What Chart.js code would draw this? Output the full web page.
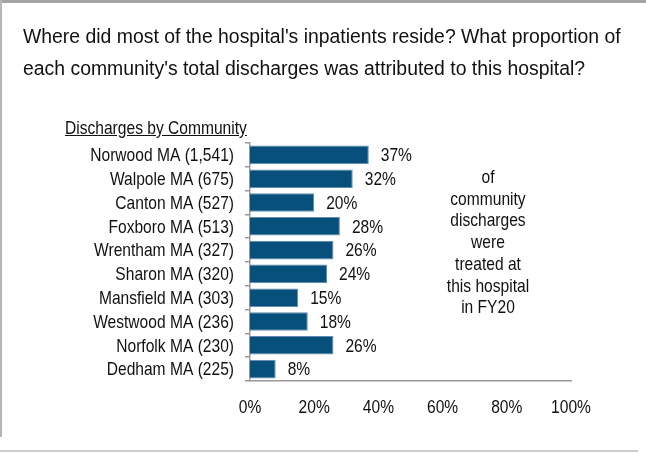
<!DOCTYPE html>
<html>
<head>
<meta charset="utf-8">
<script src="https://cdn.jsdelivr.net/npm/chart.js@4"></script>
<style>
  body { margin: 0; background: #fff; font-family: "Liberation Sans", Arial, sans-serif; }
  #wrap { position: relative; width: 646px; height: 453px; overflow: hidden; }
  #chart { position: absolute; left: 0; top: 0; }
  .topBar { position: absolute; left: 0; top: 0; width: 646px; height: 3px; background: #a3a3a3; }
  .leftBar { position: absolute; left: 0; top: 0; width: 2px; height: 437px; background: #b5b5b5; }
  .bottomBar { position: absolute; left: 0; top: 450px; width: 638px; height: 2px; background: #cccccc; }
  .title { position: absolute; left: 23px; top: 20px; font-size: 19.4px; line-height: 32px; color: #111; white-space: nowrap; }
  .sub { position: absolute; left: 65px; top: 117px; font-size: 19px; color: #111; text-decoration: underline; white-space: nowrap;
         transform: scaleX(0.82); transform-origin: left top; }
  .note { position: absolute; left: 408px; top: 166px; width: 160px; text-align: center; font-size: 19px; line-height: 21.7px; color: #111;
          transform: scaleX(0.82); transform-origin: center top; }
</style>
</head>
<body>
<div id="wrap">
  <canvas id="chart" width="646" height="453"></canvas>
  <div class="topBar"></div>
  <div class="leftBar"></div>
  <div class="bottomBar"></div>
  <div class="title">Where did most of the hospital's inpatients reside? What proportion of<br>each community's total discharges was attributed to this hospital?</div>
  <div class="sub">Discharges by Community</div>
  <div class="note">of<br>community<br>discharges<br>were<br>treated at<br>this hospital<br>in FY20</div>
</div>
<script>
// data
const communities = ['Norwood MA', 'Walpole MA', 'Canton MA', 'Foxboro MA', 'Wrentham MA', 'Sharon MA', 'Mansfield MA', 'Westwood MA', 'Norfolk MA', 'Dedham MA'];
const discharges = [1541, 675, 527, 513, 327, 320, 303, 236, 230, 225];
const shares = [37, 32, 20, 28, 26, 24, 15, 18, 26, 8];
const xTicks = [0, 20, 40, 60, 80, 100];

const labels = communities.map((c, i) => c + ' (' + discharges[i].toLocaleString('en-US') + ')');

// the reference uses a narrow face, so squeeze Liberation Sans sideways
function narrowText(ctx, text, x, y, align) {
    ctx.save();
    ctx.translate(x, y);
    ctx.scale(0.82, 1);
    ctx.textAlign = align;
    ctx.fillText(text, 0, 0);
    ctx.restore();
}

// tick labels and % values
const narrowLabels = {
    id: 'narrowLabels',
    afterDraw(chart) {
        const ctx = chart.ctx;
        const xs = chart.scales.x;
        const ys = chart.scales.y;
        const meta = chart.getDatasetMeta(0);
        ctx.save();
        ctx.font = '19px "Liberation Sans", Arial, sans-serif';
        ctx.fillStyle = '#111';
        ctx.textBaseline = 'middle';
        labels.forEach((lab, i) => {
            narrowText(ctx, lab, ys.right - 16, ys.getPixelForValue(i) + 1, 'right');
        });
        xTicks.forEach(v => {
            narrowText(ctx, v + '%', xs.getPixelForValue(v), xs.top + 27, 'center');
        });
        meta.data.forEach((bar, i) => {
            narrowText(ctx, shares[i] + '%', bar.x + 12, bar.y + 1, 'left');
        });
        ctx.restore();
    }
};

new Chart(document.getElementById('chart'), {
    type: 'bar',
    data: {
        labels: labels,
        datasets: [{
            data: shares,
            backgroundColor: '#07507b',
            borderColor: '#5f8cb0',
            borderWidth: 1,
            barPercentage: 0.78,
            categoryPercentage: 1
        }]
    },
    options: {
        indexAxis: 'y',
        responsive: false,
        animation: false,
        layout: { padding: { left: 0, right: 75, top: 143, bottom: 0 } },
        plugins: {
            legend: { display: false },
            tooltip: { enabled: false }
        },
        scales: {
            x: {
                min: 0,
                max: 100,
                afterFit(scale) { scale.height = 72; },
                grid: { display: false, drawTicks: false },
                border: { display: true, color: '#9a9a9a', width: 1.5 },
                ticks: { display: false, stepSize: 20 }
            },
            y: {
                afterFit(scale) { scale.width = 250; },
                grid: { offset: true, drawOnChartArea: false, drawTicks: true, tickLength: 5, color: '#9a9a9a', lineWidth: 1.5 },
                border: { display: true, color: '#9a9a9a', width: 1.5 },
                ticks: { display: false, autoSkip: false }
            }
        }
    },
    plugins: [narrowLabels]
});
</script>
</body>
</html>
